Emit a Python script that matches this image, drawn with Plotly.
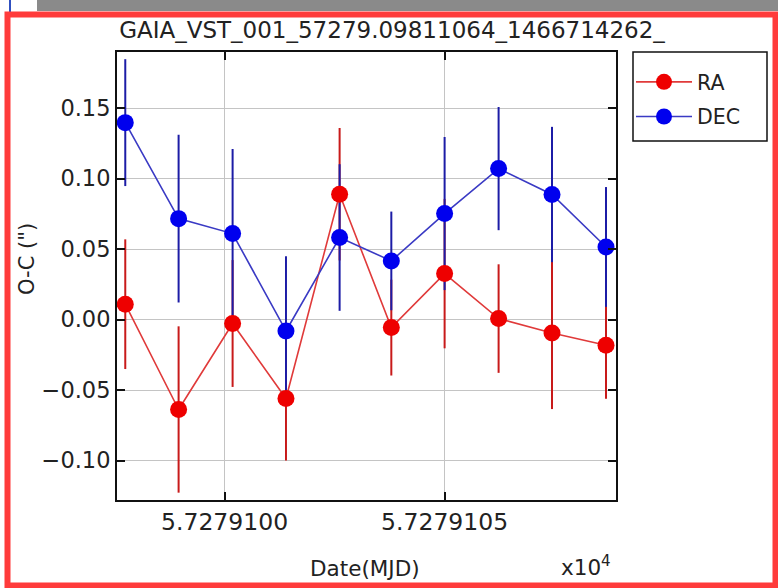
import plotly.graph_objects as go

# Observation epochs (MJD) and O-C residuals in arcsec
mjd = [57279.097743, 57279.098955, 57279.100182, 57279.101395, 57279.102614,
       57279.103789, 57279.105000, 57279.106227, 57279.107441, 57279.108668]
ra = [0.0109, -0.0638, -0.0028, -0.0560, 0.0889, -0.0057, 0.0326, 0.0007, -0.0095, -0.0182]
ra_err = [0.046, 0.059, 0.045, 0.044, 0.047, 0.034, 0.053, 0.0385, 0.054, 0.038]
dec = [0.1397, 0.0716, 0.0610, -0.0081, 0.0582, 0.0416, 0.0752, 0.1071, 0.0887, 0.0515]
dec_err = [0.045, 0.0595, 0.060, 0.053, 0.052, 0.035, 0.0543, 0.0437, 0.048, 0.0425]

x_tickvals = [57279.100, 57279.105]
x_ticktext = ["5.7279100", "5.7279105"]
y_tickvals = [-0.10, -0.05, 0.00, 0.05, 0.10, 0.15]
y_ticktext = ["\u22120.10", "\u22120.05", "0.00", "0.05", "0.10", "0.15"]

title_text = "GAIA_VST_001_57279.09811064_1466714262_"

W, H = 778, 588
L, R, T, B = 117, 162, 52, 88
PW, PH = W - L - R, H - T - B
FONT = "DejaVu Sans"
TXT = "#222222"


def px(xp):
    return (xp - L) / PW


def py(yp):
    return (H - B - yp) / PH


RA_MARK, RA_LINE, RA_ERR = "#ee0000", "#e03a3a", "#c81a1a"
DEC_MARK, DEC_LINE, DEC_ERR = "#0000ee", "#3a3ac4", "#1c1ca6"

fig = go.Figure()

# error bars first so every marker sits on top of them
for y, e, c in [(ra, ra_err, RA_ERR), (dec, dec_err, DEC_ERR)]:
    fig.add_trace(go.Scatter(
        x=mjd, y=y, mode="markers", showlegend=False, hoverinfo="skip",
        marker=dict(size=1, color="rgba(0,0,0,0)"),
        error_y=dict(type="data", array=e, visible=True, color=c,
                     thickness=2, width=0),
    ))

fig.add_trace(go.Scatter(
    x=mjd, y=ra, mode="lines+markers", name="RA", legendgroup="ra",
    line=dict(color=RA_LINE, width=1.6),
    marker=dict(color=RA_MARK, size=17, symbol="circle"),
))
fig.add_trace(go.Scatter(
    x=mjd, y=dec, mode="lines+markers", name="DEC", legendgroup="dec",
    line=dict(color=DEC_LINE, width=1.6),
    marker=dict(color=DEC_MARK, size=17, symbol="circle"),
))

axis_common = dict(
    showline=True, linecolor="#111111", linewidth=2, mirror="allticks",
    ticks="inside", ticklen=8, tickwidth=1.5, tickcolor="#111111",
    showgrid=True, gridcolor="#c4c4c4", gridwidth=1, zeroline=False,
)

fig.update_xaxes(
    range=[57279.097555, 57279.108895], tickmode="array",
    tickvals=x_tickvals, ticktext=x_ticktext,
    tickfont=dict(family=FONT, size=23.5, color=TXT), **axis_common,
)
fig.update_yaxes(
    range=[-0.128, 0.1898], tickmode="array",
    tickvals=y_tickvals, ticktext=y_ticktext,
    tickfont=dict(family=FONT, size=22.5, color=TXT), **axis_common,
)


def label(text, xp, yp, size, angle=0):
    return dict(text=text, x=px(xp), y=py(yp), xref="paper", yref="paper",
                xanchor="center", yanchor="middle", textangle=angle,
                showarrow=False, font=dict(family=FONT, size=size, color=TXT))


annotations = [
    label("Date(MJD)", 365, 568, 21.5),
    label("x10<sup>4</sup>", 586, 566, 21.5),
    label("O-C (\")", 27, 259, 21, angle=-90),
]

shapes = [
    # dark strip along the top edge
    dict(type="rect", xref="paper", yref="paper", x0=px(37), x1=px(W + 2),
         y0=py(11), y1=py(-2), fillcolor="#8a8a8a", line=dict(width=0),
         layer="above"),
    dict(type="line", xref="paper", yref="paper", x0=px(10), x1=px(10),
         y0=py(12), y1=py(-2), line=dict(color="#3050c0", width=2),
         layer="above"),
    # red frame around the whole panel
    dict(type="rect", xref="paper", yref="paper", x0=px(7.5), x1=px(775.5),
         y0=py(585.5), y1=py(14.5), fillcolor="rgba(0,0,0,0)",
         line=dict(color="#ff3b3b", width=6), layer="above"),
    # legend frame
    dict(type="rect", xref="paper", yref="paper", x0=px(633), x1=px(767),
         y0=py(141), y1=py(52), fillcolor="white",
         line=dict(color="#111111", width=1.5), layer="above"),
]

fig.update_layout(
    width=W, height=H,
    margin=dict(l=L, r=R, t=T, b=B),
    paper_bgcolor="white", plot_bgcolor="white",
    title=dict(text=title_text, x=392 / W, y=1 - 30 / H, xref="container",
               yref="container", xanchor="center", yanchor="middle",
               font=dict(family=FONT, size=23, color=TXT)),
    legend=dict(x=px(631), y=py(62), xanchor="left", yanchor="top",
                borderwidth=0, bgcolor="rgba(0,0,0,0)",
                font=dict(family=FONT, size=20.5, color=TXT),
                itemwidth=56, traceorder="grouped", tracegroupgap=5),
    annotations=annotations,
    shapes=shapes,
    showlegend=True,
)

fig.write_html("out.html")
